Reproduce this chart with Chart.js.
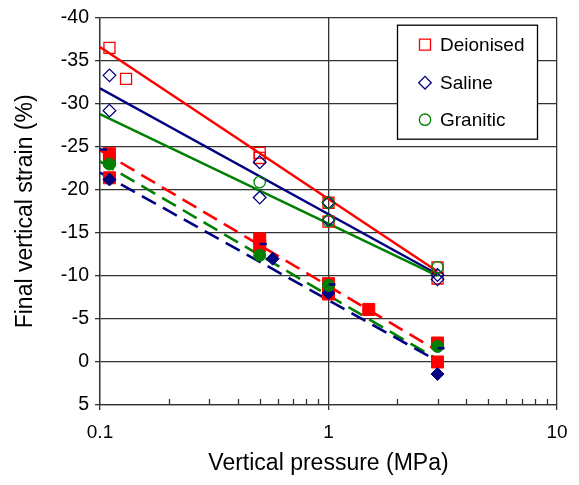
<!DOCTYPE html>
<html>
<head>
<meta charset="utf-8">
<script src="https://cdn.jsdelivr.net/npm/chart.js@4.4.0/dist/chart.umd.min.js"></script>
<style>
  html, body { margin: 0; padding: 0; background: #fff; }
  #wrap { width: 579px; height: 485px; }
</style>
</head>
<body>
<div id="wrap"><canvas id="chart"></canvas></div>
<script>
//-------------------- DATA --------------------
// pressure in MPa, strain in %
const xTickValues = [0.1, 1, 10];
const xMinorTicks = [0.2, 0.3, 0.4, 0.5, 0.6, 0.7, 0.8, 0.9, 2, 3, 4, 5, 6, 7, 8, 9];

// open markers (solid trend lines)
const deionisedOpenX = [0.11, 0.13, 0.5, 0.5, 1, 1, 3, 3];
const deionisedOpenY = [-36.5, -32.9, -24.3, -23.7, -18.5, -16.3, -11.0, -9.7];
const salineOpenX = [0.11, 0.11, 0.5, 0.5, 1, 1, 3, 3];
const salineOpenY = [-33.3, -29.2, -23.2, -19.1, -18.5, -16.5, -10.1, -9.6];
const graniticOpenX = [0.5, 1, 1, 3];
const graniticOpenY = [-20.9, -18.5, -16.4, -11.0];

// filled markers (dashed trend lines)
const deionisedFilledX = [0.11, 0.11, 0.11, 0.5, 0.5, 1, 1, 1.5, 3, 3];
const deionisedFilledY = [-24.2, -23.4, -21.4, -14.3, -13.5, -9.1, -7.9, -6.1, -2.2, 0];
const salineFilledX = [0.11, 0.57, 1, 3];
const salineFilledY = [-21.2, -12.0, -8.0, 1.4];
const graniticFilledX = [0.11, 0.5, 1, 3];
const graniticFilledY = [-23.0, -12.4, -8.9, -1.8];

// short dash markers
const dashX = [0.1, 0.5, 1, 3];
const dashY = [-24.7, -13.7, -9.0, -1.6];

// trend lines
const fitX = [0.1, 3];
const deionisedFitY = [-36.6, -10.5];
const salineFitY = [-31.8, -10.2];
const graniticFitY = [-28.8, -10.0];
const deionisedDashFitY = [-24.6, -1.3];
const salineDashFitY = [-22.0, -0.1];
const graniticDashFitY = [-23.3, -0.3];

const RED = '#ff0000', BLUE = '#000080', GREEN = '#008000';
const FONT = "'Liberation Sans', Arial, sans-serif";

const pts = (xs, ys) => xs.map((x, i) => ({ x: x, y: ys[i] }));

function markers(label, xs, ys, color, style, radius, filled, order, inLegend) {
    return {
        label: label,
        data: pts(xs, ys),
        showLine: false,
        pointStyle: style,
        pointRadius: radius,
        pointHoverRadius: radius,
        pointBorderWidth: filled ? 1 : 1.3,
        pointBorderColor: color,
        pointBackgroundColor: filled ? color : 'rgba(0,0,0,0)',
        borderColor: color,
        order: order,
        inLegend: inLegend
    };
}

function trend(xs, ys, color, dashed, order) {
    return {
        data: pts(xs, ys),
        showLine: true,
        pointRadius: 0,
        borderColor: color,
        borderWidth: dashed ? 2.6 : 2.4,
        borderDash: dashed ? [16, 8] : [],
        order: order
    };
}

//-------------------- PLUGINS --------------------
// minor ticks on the log axis, pointing into the plot
const minorTicks = {
    id: 'minorTicks',
    afterDraw(chart) {
        const ctx = chart.ctx, xs = chart.scales.x, b = chart.chartArea.bottom;
        ctx.save();
        ctx.strokeStyle = '#333';
        ctx.lineWidth = 1.3;
        xMinorTicks.forEach(v => {
            const px = Math.round(xs.getPixelForValue(v)) + 0.5;
            ctx.beginPath();
            ctx.moveTo(px, b);
            ctx.lineTo(px, b - 6);
            ctx.stroke();
        });
        ctx.restore();
    }
};

// boxed legend in the top right corner of the plot
const legendBox = {
    id: 'legendBox',
    afterDatasetsDraw(chart) {
        const ctx = chart.ctx, a = chart.chartArea;
        const x0 = a.right - 160, y0 = a.top + 7, w = 140, h = 114;
        ctx.save();
        ctx.fillStyle = '#fff';
        ctx.fillRect(x0, y0, w, h);
        ctx.strokeStyle = '#000';
        ctx.lineWidth = 1.3;
        ctx.strokeRect(x0 + 0.5, y0 + 0.5, w, h);
        const items = chart.data.datasets.filter(d => d.inLegend);
        const rowY = [20, 58, 95];
        items.forEach((d, i) => {
            const y = y0 + rowY[i];
            ctx.strokeStyle = d.pointBorderColor;
            ctx.fillStyle = 'rgba(0,0,0,0)';
            ctx.lineWidth = 1.3;
            Chart.helpers.drawPoint(ctx, {
                pointStyle: d.pointStyle, radius: d.pointRadius, borderWidth: 1.3, rotation: 0
            }, x0 + 28, y);
            ctx.fillStyle = '#000';
            ctx.font = '19px ' + FONT;
            ctx.textBaseline = 'middle';
            ctx.textAlign = 'left';
            ctx.fillText(d.label, x0 + 43, y + 1);
        });
        ctx.restore();
    }
};

//-------------------- CONFIG --------------------
const config = {
    type: 'scatter',
    data: {
        datasets: [
            trend(fitX, deionisedDashFitY, RED, true, 20),
            trend(fitX, graniticDashFitY, GREEN, true, 19),
            trend(fitX, salineDashFitY, BLUE, true, 18),
            trend(fitX, deionisedFitY, RED, false, 17),
            trend(fitX, salineFitY, BLUE, false, 16),
            trend(fitX, graniticFitY, GREEN, false, 15),
            markers('Deionised', deionisedOpenX, deionisedOpenY, RED, 'rect', 7.8, false, 10, true),
            markers('Saline', salineOpenX, salineOpenY, BLUE, 'rectRot', 6.3, false, 9, true),
            markers('Granitic', graniticOpenX, graniticOpenY, GREEN, 'circle', 5.7, false, 8, true),
            markers('Deionised', deionisedFilledX, deionisedFilledY, RED, 'rect', 8.5, true, 5, false),
            markers('Saline', salineFilledX, salineFilledY, BLUE, 'rectRot', 6.5, true, 4, false),
            markers('Granitic', graniticFilledX, graniticFilledY, GREEN, 'circle', 6, true, 3, false),
            {
                data: pts(dashX, dashY),
                showLine: false,
                pointStyle: 'dash',
                pointRadius: 7,
                pointBorderWidth: 2.5,
                pointBorderColor: BLUE,
                order: 1
            }
        ]
    },
    options: {
        responsive: true,
        maintainAspectRatio: false,
        animation: false,
        layout: { padding: { top: 16, right: 22, left: 0, bottom: 0 } },
        plugins: {
            legend: { display: false },
            tooltip: { enabled: false }
        },
        scales: {
            x: {
                type: 'logarithmic',
                min: 0.1,
                max: 10,
                afterBuildTicks: s => { s.ticks = xTickValues.map(v => ({ value: v })); },
                afterFit: s => { s.height = 80; },
                grid: { color: '#333', lineWidth: 1.3, tickLength: 5, drawTicks: true },
                border: { color: '#333', width: 1.3 },
                ticks: {
                    color: '#000',
                    font: { family: FONT, size: 19 },
                    padding: 11,
                    maxRotation: 0,
                    callback: v => String(v)
                },
                title: {
                    display: true,
                    text: 'Vertical pressure (MPa)',
                    color: '#000',
                    font: { family: FONT, size: 23 },
                    padding: { top: 0, bottom: 8 }
                }
            },
            y: {
                reverse: true,
                min: -40,
                max: 5,
                afterFit: s => { s.width = 100; },
                grid: { color: '#333', lineWidth: 1.3, tickLength: 5 },
                border: { color: '#333', width: 1.3 },
                ticks: {
                    stepSize: 5,
                    color: '#000',
                    font: { family: FONT, size: 19.5 },
                    padding: 6
                },
                title: {
                    display: true,
                    text: 'Final vertical strain (%)',
                    color: '#000',
                    font: { family: FONT, size: 23 },
                    padding: { top: 12, bottom: 0 }
                }
            }
        }
    },
    plugins: [minorTicks, legendBox]
};

//-------------------- RENDER --------------------
const myChart = new Chart(document.getElementById('chart'), config);
</script>
</body>
</html>
